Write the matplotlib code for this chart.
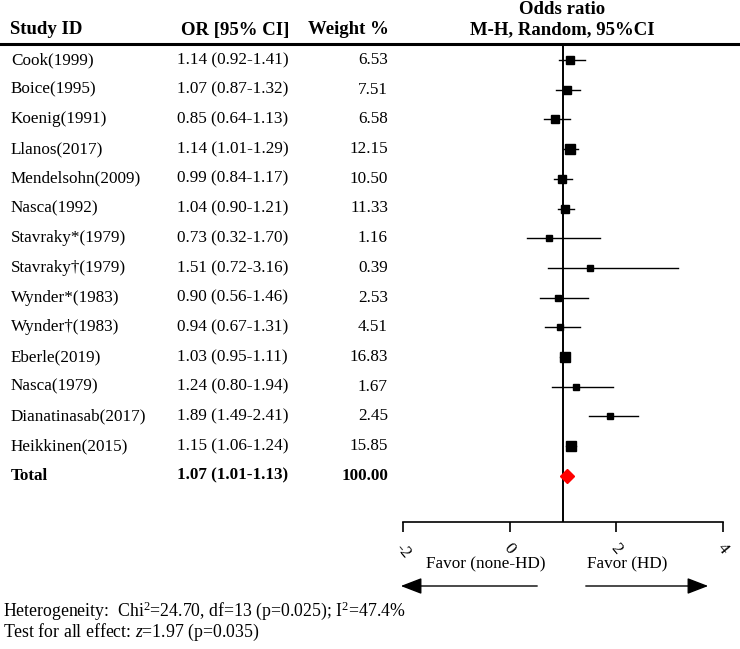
import matplotlib
matplotlib.use("Agg")
import matplotlib.pyplot as plt
import matplotlib.transforms as mtransforms
from matplotlib.lines import Line2D
from matplotlib.patches import FancyArrowPatch

plt.rcParams['font.family'] = ['Liberation Serif', 'DejaVu Serif']
plt.rcParams['mathtext.fontset'] = 'custom'
plt.rcParams['mathtext.rm'] = 'Liberation Serif'
plt.rcParams['mathtext.it'] = 'Liberation Serif:italic'

# data
studies = ["Cook(1999)", "Boice(1995)", "Koenig(1991)", "Llanos(2017)", "Mendelsohn(2009)",
           "Nasca(1992)", "Stavraky*(1979)", "Stavraky\u2020(1979)", "Wynder*(1983)",
           "Wynder\u2020(1983)", "Eberle(2019)", "Nasca(1979)", "Dianatinasab(2017)",
           "Heikkinen(2015)"]
odds = [1.14, 1.07, 0.85, 1.14, 0.99, 1.04, 0.73, 1.51, 0.90, 0.94, 1.03, 1.24, 1.89, 1.15]
lower = [0.92, 0.87, 0.64, 1.01, 0.84, 0.90, 0.32, 0.72, 0.56, 0.67, 0.95, 0.80, 1.49, 1.06]
upper = [1.41, 1.32, 1.13, 1.29, 1.17, 1.21, 1.70, 3.16, 1.46, 1.31, 1.11, 1.94, 2.41, 1.24]
weights = [6.53, 7.51, 6.58, 12.15, 10.50, 11.33, 1.16, 0.39, 2.53, 4.51, 16.83, 1.67, 2.45, 15.85]
total_or, total_lo, total_hi, total_w = 1.07, 1.01, 1.13, 100.00
x_ticks = [-2, 0, 2, 4]

W, H = 740, 649
fig = plt.figure(figsize=(W / 100, H / 100), dpi=100)

# forest panel: x from -2 (px 403) to 4 (px 723), top at px 44, axis at px 522
ax = fig.add_axes([403 / W, 1 - 522 / H, 320 / W, (522 - 44) / H])
row_h = 29.7
ax.set_xlim(-2, 4)
ax.set_ylim((522 - 60) / row_h, (44 - 60) / row_h)
for s in ["top", "right", "left"]:
    ax.spines[s].set_visible(False)
ax.spines["bottom"].set_linewidth(1.2)
ax.set_yticks([])
ax.set_xticks(x_ticks)
ax.set_xticklabels([str(t) for t in x_ticks], rotation=-50, fontsize=12.5)
ax.tick_params(axis="x", length=7, width=1.2, pad=6)
ax.axvline(1, color="black", lw=1.4)

# study rows
n = len(studies)
for i in range(n):
    ax.plot([lower[i], upper[i]], [i, i], color="black", lw=1, clip_on=False)
    ms = (5 + 0.35 * weights[i]) * 0.72
    ax.plot(odds[i], i, marker="s", color="black", ms=ms, clip_on=False)

# pooled estimate
ax.plot(total_or, n, marker="D", color="red", ms=7, clip_on=False)

# text columns
tr = mtransforms.blended_transform_factory(fig.transFigure, ax.transData)
fs = 12.3
for i in range(n):
    fig.text(11 / W, i, studies[i], transform=tr, fontsize=fs, va="center", ha="left")
    fig.text(177 / W, i, f"{odds[i]:.2f} ({lower[i]:.2f}-{upper[i]:.2f})", transform=tr,
             fontsize=fs, va="center", ha="left")
    fig.text(388 / W, i, f"{weights[i]:.2f}", transform=tr, fontsize=fs, va="center", ha="right")

fig.text(11 / W, n, "Total", transform=tr, fontsize=fs, va="center", fontweight="bold")
fig.text(177 / W, n, f"{total_or:.2f} ({total_lo:.2f}-{total_hi:.2f})", transform=tr,
         fontsize=fs, va="center", fontweight="bold")
fig.text(388 / W, n, f"{total_w:.2f}", transform=tr, fontsize=fs, va="center",
         ha="right", fontweight="bold")

# header
hfs = 13.5
fig.text(10 / W, 1 - 30 / H, "Study ID", fontsize=hfs, fontweight="bold", va="center")
fig.text(289 / W, 1 - 30 / H, "OR [95% CI]", fontsize=hfs, fontweight="bold", va="center", ha="right")
fig.text(308 / W, 1 - 30 / H, "Weight %", fontsize=hfs, fontweight="bold", va="center")
fig.text(562 / W, 1 - 9 / H, "Odds ratio", fontsize=hfs, fontweight="bold", va="center", ha="center")
fig.text(562 / W, 1 - 30 / H, "M-H, Random, 95%CI", fontsize=hfs, fontweight="bold",
         va="center", ha="center")
fig.add_artist(Line2D([0, 1], [1 - 44 / H, 1 - 44 / H], color="black", lw=2.2,
                      transform=fig.transFigure))

# favour arrows
fig.text(486 / W, 1 - 564 / H, "Favor (none-HD)", fontsize=fs, va="center", ha="center")
fig.text(627 / W, 1 - 564 / H, "Favor (HD)", fontsize=fs, va="center", ha="center")
for start, end in [(540, 398), (583, 711)]:
    fig.add_artist(FancyArrowPatch((start / W, 1 - 586 / H), (end / W, 1 - 586 / H),
                                   transform=fig.transFigure,
                                   arrowstyle="-|>,head_length=1.3,head_width=0.5",
                                   mutation_scale=10, color="black", lw=1))

# footnotes
fig.text(3 / W, 1 - 611 / H,
         r"Heterogeneity:  Chi$^{2}$=24.70, df=13 (p=0.025); I$^{2}$=47.4%",
         fontsize=12.8, va="center")
fig.text(3 / W, 1 - 632 / H, r"Test for all effect: $z$=1.97 (p=0.035)", fontsize=12.8, va="center")

fig.savefig("out.png", dpi=100)
